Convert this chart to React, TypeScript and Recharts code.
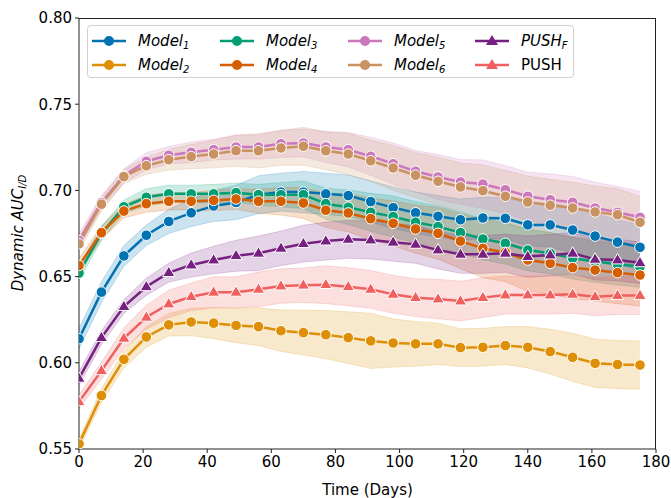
import React from 'react';
import { ComposedChart, Line, Area, XAxis, YAxis } from 'recharts';

// days sampled every week
const days = [0, 7, 14, 21, 28, 35, 42, 49, 56, 63, 70, 77, 84, 91, 98, 105, 112, 119, 126, 133, 140, 147, 154, 161, 168, 175];

const model1 = [0.614, 0.641, 0.662, 0.674, 0.682, 0.687, 0.691, 0.693, 0.6975, 0.699, 0.699, 0.698, 0.697, 0.6935, 0.690, 0.687, 0.685, 0.683, 0.684, 0.6838, 0.680, 0.680, 0.677, 0.6735, 0.670, 0.667];
const model2 = [0.553, 0.581, 0.602, 0.615, 0.622, 0.6237, 0.623, 0.6217, 0.621, 0.6186, 0.6175, 0.6163, 0.6146, 0.6127, 0.6115, 0.611, 0.611, 0.6088, 0.609, 0.610, 0.609, 0.6065, 0.6032, 0.5997, 0.599, 0.5987];
const model3 = [0.652, 0.675, 0.6905, 0.696, 0.698, 0.698, 0.698, 0.6987, 0.6975, 0.6975, 0.6975, 0.6923, 0.6902, 0.6873, 0.6848, 0.6815, 0.679, 0.6755, 0.6718, 0.6693, 0.6654, 0.6635, 0.6606, 0.6587, 0.6571, 0.6558];
const model4 = [0.6565, 0.6755, 0.688, 0.6923, 0.6937, 0.6937, 0.6942, 0.695, 0.6937, 0.6937, 0.6927, 0.6885, 0.6869, 0.6836, 0.6809, 0.6776, 0.6751, 0.6706, 0.6664, 0.664, 0.6596, 0.6577, 0.6552, 0.6538, 0.6523, 0.6509];
const model5 = [0.671, 0.693, 0.7085, 0.7169, 0.7204, 0.7221, 0.7236, 0.7252, 0.7252, 0.7271, 0.7275, 0.7252, 0.7236, 0.7198, 0.7155, 0.7111, 0.7078, 0.7049, 0.7037, 0.7004, 0.6966, 0.6946, 0.6931, 0.6898, 0.6873, 0.6844];
const model6 = [0.669, 0.692, 0.708, 0.7143, 0.7178, 0.7196, 0.7211, 0.723, 0.723, 0.7246, 0.7256, 0.723, 0.7211, 0.7172, 0.713, 0.7088, 0.7053, 0.702, 0.6998, 0.6966, 0.6933, 0.6914, 0.6898, 0.6875, 0.6859, 0.6815];
const pushF = [0.591, 0.6146, 0.6326, 0.6441, 0.6523, 0.6567, 0.6596, 0.6621, 0.6635, 0.6664, 0.6691, 0.6706, 0.6716, 0.6712, 0.6699, 0.6687, 0.6654, 0.6629, 0.6629, 0.6635, 0.6616, 0.6625, 0.6635, 0.660, 0.6596, 0.658];
const push = [0.5774, 0.5954, 0.6142, 0.6264, 0.6341, 0.6383, 0.6409, 0.6409, 0.6426, 0.6445, 0.645, 0.6453, 0.6441, 0.6426, 0.6397, 0.6378, 0.637, 0.6358, 0.6378, 0.6393, 0.6393, 0.6393, 0.6397, 0.6383, 0.639, 0.639];

// half-widths of the shaded bands
const ci1 = [0.006, 0.006, 0.006, 0.006, 0.007, 0.008, 0.009, 0.010, 0.011, 0.011, 0.012, 0.012, 0.012, 0.012, 0.012, 0.012, 0.012, 0.012, 0.012, 0.012, 0.012, 0.013, 0.013, 0.013, 0.013, 0.013];
const ci2 = [0.003, 0.004, 0.005, 0.006, 0.0065, 0.008, 0.009, 0.010, 0.011, 0.012, 0.013, 0.014, 0.015, 0.016, 0.014, 0.013, 0.012, 0.011, 0.011, 0.011, 0.012, 0.013, 0.014, 0.014, 0.014, 0.014];
const ci3 = [0.004, 0.004, 0.004, 0.005, 0.005, 0.005, 0.0055, 0.0055, 0.006, 0.007, 0.008, 0.009, 0.010, 0.011, 0.012, 0.012, 0.012, 0.012, 0.012, 0.012, 0.012, 0.012, 0.012, 0.012, 0.012, 0.012];
const ci4 = [0.004, 0.004, 0.004, 0.005, 0.005, 0.005, 0.006, 0.006, 0.007, 0.008, 0.009, 0.010, 0.011, 0.012, 0.013, 0.014, 0.015, 0.016, 0.017, 0.017, 0.018, 0.018, 0.018, 0.018, 0.018, 0.018];
const ci5 = [0.004, 0.004, 0.004, 0.005, 0.005, 0.006, 0.006, 0.007, 0.007, 0.008, 0.008, 0.009, 0.010, 0.011, 0.012, 0.012, 0.013, 0.013, 0.014, 0.014, 0.014, 0.015, 0.015, 0.015, 0.015, 0.015];
const ci6 = [0.004, 0.004, 0.004, 0.005, 0.006, 0.007, 0.008, 0.009, 0.010, 0.010, 0.011, 0.011, 0.012, 0.012, 0.013, 0.013, 0.014, 0.014, 0.015, 0.015, 0.015, 0.015, 0.015, 0.015, 0.015, 0.015];
const ciF = [0.004, 0.004, 0.004, 0.005, 0.0055, 0.007, 0.008, 0.009, 0.010, 0.010, 0.0107, 0.011, 0.011, 0.011, 0.011, 0.011, 0.011, 0.011, 0.011, 0.011, 0.012, 0.012, 0.012, 0.012, 0.012, 0.012];
const ciP = [0.004, 0.005, 0.006, 0.007, 0.008, 0.008, 0.009, 0.009, 0.010, 0.010, 0.010, 0.011, 0.011, 0.011, 0.011, 0.011, 0.0115, 0.0115, 0.0115, 0.011, 0.011, 0.011, 0.011, 0.011, 0.011, 0.011];

const xTicks = [0, 20, 40, 60, 80, 100, 120, 140, 160, 180];
const yTicks = [0.55, 0.6, 0.65, 0.7, 0.75, 0.8];

const series = [
  { key: 'm1', name: 'Model', sub: '1', values: model1, ci: ci1, color: '#0173b2', tri: false },
  { key: 'm2', name: 'Model', sub: '2', values: model2, ci: ci2, color: '#de8f05', tri: false },
  { key: 'm3', name: 'Model', sub: '3', values: model3, ci: ci3, color: '#029e73', tri: false },
  { key: 'm4', name: 'Model', sub: '4', values: model4, ci: ci4, color: '#d55e00', tri: false },
  { key: 'm5', name: 'Model', sub: '5', values: model5, ci: ci5, color: '#cc78bc', tri: false },
  { key: 'm6', name: 'Model', sub: '6', values: model6, ci: ci6, color: '#ca9161', tri: false },
  { key: 'pf', name: 'PUSH', sub: 'F', values: pushF, ci: ciF, color: '#762181', tri: true },
  { key: 'p', name: 'PUSH', sub: '', values: push, ci: ciP, color: '#f0605f', tri: true },
];

const data = days.map((d, i) => {
  const row: any = { day: d };
  series.forEach(s => {
    row[s.key] = s.values[i];
    row[s.key + 'b'] = [s.values[i] - s.ci[i], s.values[i] + s.ci[i]];
  });
  return row;
});

const FONT = '"DejaVu Sans", sans-serif';

const makeDot = (color: string, tri: boolean) => (props: any) => {
  const { cx, cy, index } = props;
  if (cx == null || cy == null) return <g key={index} />;
  if (tri) {
    const r = 6.5;
    const pts = `${cx},${cy - r} ${cx + r * 0.95},${cy + r * 0.6} ${cx - r * 0.95},${cy + r * 0.6}`;
    return <polygon key={index} points={pts} fill={color} stroke="#fff" strokeWidth={1} />;
  }
  return <circle key={index} cx={cx} cy={cy} r={5.3} fill={color} stroke="#fff" strokeWidth={1} />;
};

const LegendMark: React.FC<{ color: string; tri: boolean }> = ({ color, tri }) => (
  <svg width={34} height={14} style={{ display: 'block' }}>
    <line x1={0} y1={7} x2={34} y2={7} stroke={color} strokeWidth={2.5} />
    {tri ? (
      <polygon points="17,1 23,11 11,11" fill={color} />
    ) : (
      <circle cx={17} cy={7} r={5} fill={color} />
    )}
  </svg>
);

const legendCols = [[0, 1], [2, 3], [4, 5], [6, 7]];
const colLeft = [4, 132, 260, 387];

const ChartLegend = () => (
  <div
    style={{
      position: 'absolute', left: 87, top: 25, width: 487, height: 53,
      border: '1px solid #d0d0d0', borderRadius: 4, background: 'rgba(255,255,255,0.8)',
      fontFamily: FONT, fontSize: 15, color: '#000', boxSizing: 'border-box',
    }}
  >
    {legendCols.map((col, ci) =>
      col.map((si, ri) => {
        const s = series[si];
        const plain = s.key === 'p';
        return (
          <div key={s.key} style={{ position: 'absolute', left: colLeft[ci], top: 6 + ri * 24, display: 'flex', alignItems: 'center', height: 18 }}>
            <LegendMark color={s.color} tri={s.tri} />
            <span style={{ marginLeft: 12, fontStyle: plain ? 'normal' : 'italic', whiteSpace: 'nowrap' }}>
              {s.name}
              {s.sub && <sub style={{ fontSize: 10, verticalAlign: -3 }}>{s.sub}</sub>}
            </span>
          </div>
        );
      })
    )}
  </div>
);

const YLabel = () => {
  const cx = 18;
  const cy = 233;
  return (
    <text x={cx} y={cy} transform={`rotate(-90 ${cx} ${cy})`} textAnchor="middle" dominantBaseline="central" fontFamily={FONT} fontSize={15} fontStyle="italic" fill="#000">
      Dynamic AUC
      <tspan fontSize={10} dy={4}>I/D</tspan>
    </text>
  );
};

export default function App() {
  return (
    <div style={{ position: 'absolute', left: 0, top: 0, width: 671, height: 498, background: '#fff' }}>
      <ComposedChart width={671} height={498} data={data} margin={{ top: 18, right: 15, bottom: 19, left: 19 }}>
        <XAxis
          dataKey="day" type="number" domain={[0, 180]} ticks={xTicks} allowDataOverflow
          tick={{ fontFamily: FONT, fontSize: 15, fill: '#000' }} tickSize={4} tickMargin={3}
          stroke="#222" strokeWidth={1} height={30}
          label={{ value: 'Time (Days)', position: 'insideBottom', offset: -16, fontFamily: FONT, fontSize: 15, fill: '#000' }}
        />
        <YAxis
          type="number" domain={[0.55, 0.8]} ticks={yTicks} allowDataOverflow width={60}
          tickFormatter={(v: number) => v.toFixed(2)}
          tick={{ fontFamily: FONT, fontSize: 15, fill: '#000' }} tickSize={4} tickMargin={3}
          stroke="#222" strokeWidth={1}
          label={<YLabel />}
        />
        {series.map(s => (
          <Area
            key={s.key + 'b'} dataKey={s.key + 'b'} type="linear" stroke={s.color} strokeOpacity={0.2}
            strokeWidth={1} fill={s.color} fillOpacity={0.2} dot={false} activeDot={false} isAnimationActive={false}
          />
        ))}
        {series.map(s => (
          <Line
            key={s.key} dataKey={s.key} type="linear" stroke={s.color} strokeWidth={2.5}
            dot={makeDot(s.color, s.tri)} activeDot={false} isAnimationActive={false}
          />
        ))}
      </ComposedChart>
      {/* plot frame (top and right spines) */}
      <div style={{ position: 'absolute', left: 79, top: 18, width: 577, height: 431, border: '1px solid #222', borderLeft: 'none', borderBottom: 'none', boxSizing: 'border-box', pointerEvents: 'none' }} />
      <ChartLegend />
    </div>
  );
}
